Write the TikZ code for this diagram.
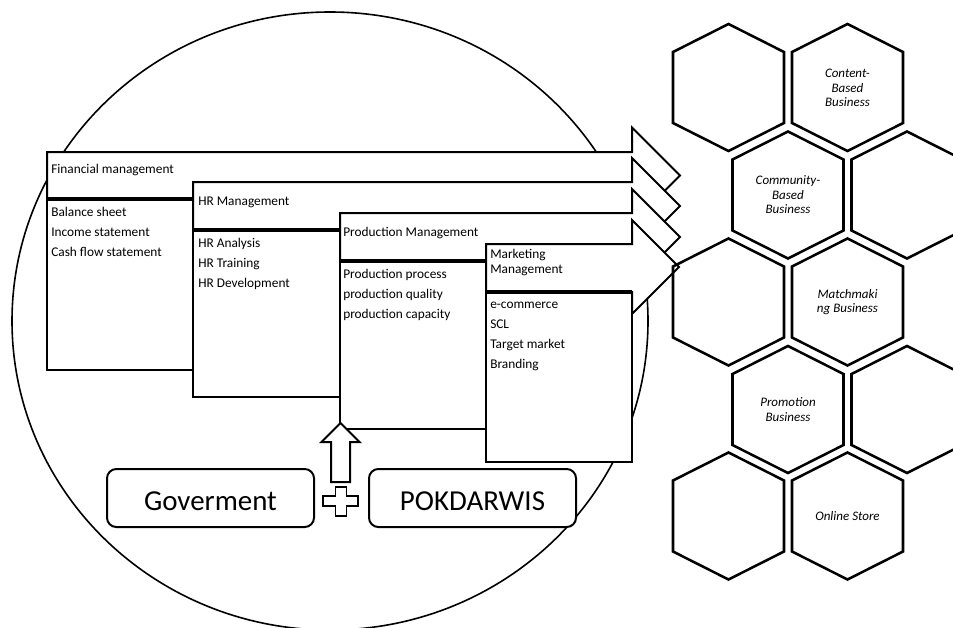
\documentclass[tikz,border=0pt]{standalone}
\usepackage{fontspec}
\setmainfont{Carlito}
\begin{document}
\begin{tikzpicture}[x=0.75pt,y=-0.75pt,
  bx/.style={draw=black,line width=1.5pt,fill=white,line join=miter},
  thickln/.style={line width=3pt},
  hexs/.style={draw=black,line width=1.9pt,line join=miter},
  lbl/.style={anchor=base west,inner sep=0pt,font=\fontsize{10}{12}\selectfont},
  hext/.style={align=center,inner sep=0pt,font=\fontsize{9.75}{10.9}\selectfont\itshape},
  big/.style={anchor=base,inner sep=0pt,font=\fontsize{21.7}{24}\selectfont},
  rbox/.style={draw=black,line width=1.5pt,fill=white,rounded corners=7pt,minimum width=155.25pt,minimum height=43.5pt,inner sep=0pt}]
\useasboundingbox (0,0) rectangle (953,628);
\clip (0,0) rectangle (953,628);

% big ellipse
\draw[line width=1.2pt] (330,321) ellipse [x radius=238.5pt, y radius=231.75pt];

% Financial management layer
\draw[bx] (47,199) rectangle (632,370);
\draw[bx] (47,152) -- (632,152) -- (632,127.5) -- (680,175.5) -- (632,223.5) -- (632,199) -- (47,199) -- cycle;
\draw[thickln] (47,199) -- (632,199);
\node[lbl] (fin) at (51,173.5) {Financial management};
\node[lbl] (fin1) at (51,216) {Balance sheet};
\node[lbl] (fin2) at (51,236) {Income statement};
\node[lbl] (fin3) at (51,256) {Cash flow statement};

% HR management layer
\draw[bx] (193,230) rectangle (632,397);
\draw[bx] (193,182) -- (632,182) -- (632,158) -- (680,206) -- (632,254) -- (632,230) -- (193,230) -- cycle;
\draw[thickln] (193,230) -- (632,230);
\node[lbl] (hr) at (198,205) {HR Management};
\node[lbl] (hr1) at (198,247) {HR Analysis};
\node[lbl] (hr2) at (198,267) {HR Training};
\node[lbl] (hr3) at (198,287.5) {HR Development};

% Production management layer
\draw[bx] (340,261) rectangle (632,429);
\draw[bx] (340,213) -- (632,213) -- (632,189) -- (680,237) -- (632,285) -- (632,261) -- (340,261) -- cycle;
\draw[thickln] (340,261) -- (632,261);
\node[lbl] (pr) at (343,236) {Production Management};
\node[lbl] (pr1) at (343,278) {Production process};
\node[lbl] (pr2) at (343,298) {production quality};
\node[lbl] (pr3) at (343,318) {production capacity};

% Marketing management layer
\draw[bx] (486,292) rectangle (632,462);
\draw[bx] (486,244) -- (632,244) -- (632,220) -- (679,267) -- (632,314) -- (632,292) -- (486,292) -- cycle;
\draw[thickln] (486,292) -- (632,292);
\node[lbl] (mk) at (490,258.5) {Marketing};
\node[lbl] (mkb) at (490,273.5) {Management};
\node[lbl] (mk1) at (490,308.5) {e-commerce};
\node[lbl] (mk2) at (490,328.5) {SCL};
\node[lbl] (mk3) at (490,348.5) {Target market};
\node[lbl] (mk4) at (490,368.5) {Branding};

% up block arrow
\draw[bx] (331,482) -- (331,442) -- (321.5,442) -- (340.5,423) -- (359.5,442) -- (350,442) -- (350,482) -- cycle;

% plus sign
\draw[bx,line width=1.3pt] (335.5,487) -- (346.5,487) -- (346.5,496) -- (358,496) -- (358,506) -- (346.5,506) -- (346.5,516) -- (335.5,516) -- (335.5,506) -- (323,506) -- (323,496) -- (335.5,496) -- cycle;

% bottom boxes
\node[rbox] (gov) at (210.5,498) {};
\node[big] (govt) at (210.5,510.7) {Goverment};
\node[rbox] (pok) at (472.5,498) {};
\node[big] (pokt) at (472.5,510.7) {POKDARWIS};

% hexagons
\foreach \cx/\cy in {728.5/87.5, 847.5/87.5, 788/195, 907/195, 728.5/302, 847.5/302, 788/409.5, 907/409.5, 728.5/516, 847.5/516}{
  \draw[hexs] (\cx,\cy-63.5) -- (\cx+55.5,\cy-35.5) -- (\cx+55.5,\cy+35.5) -- (\cx,\cy+63.5) -- (\cx-55.5,\cy+35.5) -- (\cx-55.5,\cy-35.5) -- cycle;
}
\node[hext] (h1) at (847.5,88) {Content-\\Based\\Business};
\node[hext] (h2) at (788,195) {Community-\\Based\\Business};
\node[hext] (h3) at (847.5,302) {Matchmaki\\ng Business};
\node[hext] (h4) at (788,409.5) {Promotion\\Business};
\node[hext] (h5) at (847.5,516) {Online Store};
\end{tikzpicture}
\end{document}
